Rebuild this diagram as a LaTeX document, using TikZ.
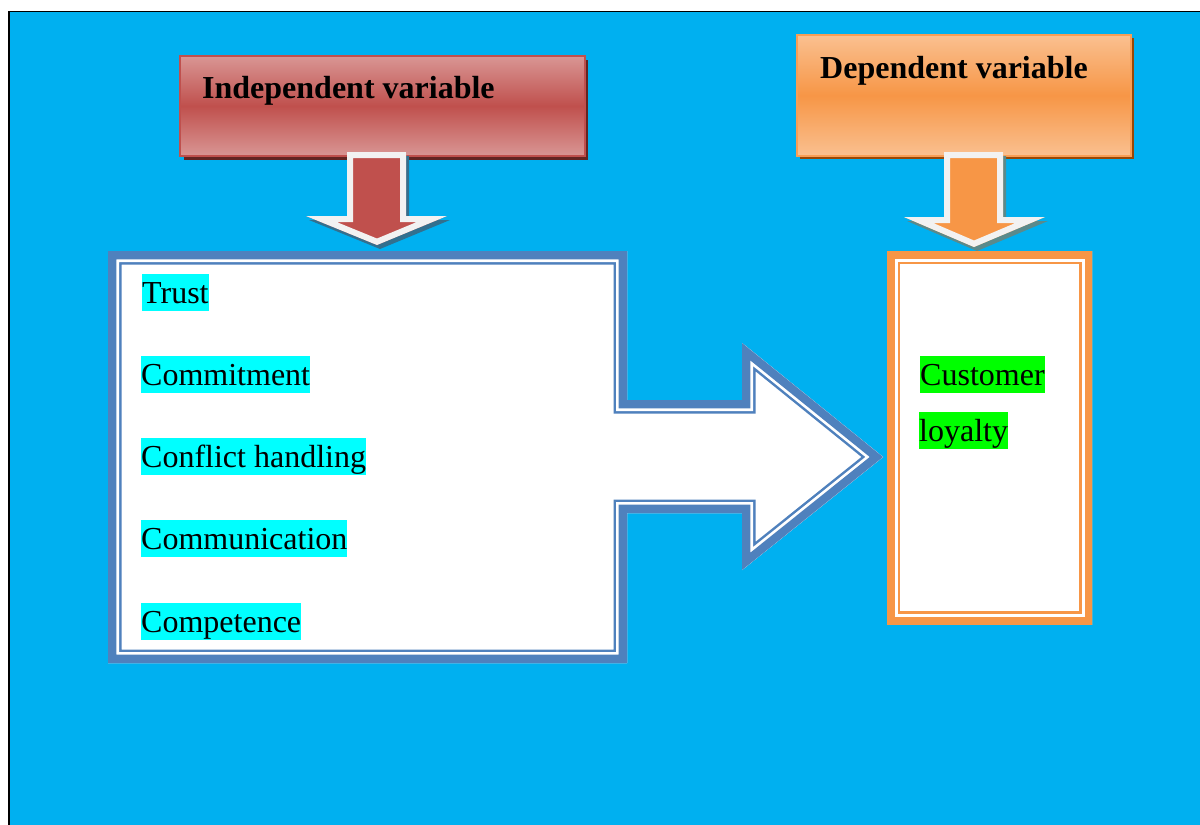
\documentclass[tikz,border=0pt]{standalone}
\usepackage{fontspec}
\setmainfont{Liberation Serif}
\definecolor{bgblue}{HTML}{00B0F0}
\definecolor{shblue}{HTML}{4F81BD}
\definecolor{org}{HTML}{F79646}
\definecolor{orgl}{HTML}{FAC090}
\definecolor{orgsh}{HTML}{984807}
\definecolor{redm}{HTML}{C0504D}
\definecolor{redl}{HTML}{D99694}
\definecolor{redsh}{HTML}{632523}
\definecolor{arrshA}{HTML}{32708F}
\definecolor{arrshB}{HTML}{5A8A8C}
\definecolor{arrw}{HTML}{F2F2F2}
\definecolor{hlcyan}{HTML}{00FFFF}
\definecolor{hlgreen}{HTML}{00FF00}
\begin{document}
\begin{tikzpicture}[x=1pt,y=-1pt,line join=miter,
  redarr/.style={insert path={(347,152) -- (406,152) -- (406,216) -- (447,216) -- (377,245) -- (306,216) -- (347,216) -- cycle}},
  orgarr/.style={insert path={(944,152) -- (1003,152) -- (1003,217) -- (1045,217) -- (974,247) -- (904,217) -- (944,217) -- cycle}},
  bigshp/.style={insert path={(108,251) -- (627,251) -- (627,400) -- (742,400) -- (742,343) -- (883,457) -- (742,570) -- (742,513) -- (627,513) -- (627,663) -- (108,663) -- cycle}},
  rbox/.style={insert path={(887,251) rectangle (1092,624)}},
  hdrtext/.style={anchor=base west,inner sep=0pt,font=\fontsize{32}{38}\selectfont\bfseries},
  hltext/.style={anchor=base west,inner sep=0pt,text height=29pt,text depth=8pt,font=\fontsize{32}{38}\selectfont}]
\useasboundingbox (0,0) rectangle (1200,825);
\fill[white] (0,0) rectangle (1200,825);
\fill[bgblue] (9,11.5) rectangle (1200,825);
\draw[line width=1.4pt] (8,11.5) -- (1200,11.5);
\draw[line width=2pt] (9,11) -- (9,825);

% independent variable header
\fill[redsh] (184,60) rectangle (588,160);
\draw[top color=redl,bottom color=redl,middle color=redm,draw=redm,line width=1.5pt] (180,56) rectangle (585,156);
\node[hdrtext] (indtxt) at (202,98) {Independent variable};

% dependent variable header
\fill[orgsh] (800,38) rectangle (1134,159);
\draw[top color=orgl,bottom color=orgl,middle color=org,draw=org!80!orgl,line width=1.5pt] (797,35) rectangle (1131,156);
\node[hdrtext] (deptxt) at (820,78) {Dependent variable};

% down arrows
\fill[arrshA,shift={(3,4)},redarr];
\fill[redm,redarr];
\begin{scope}
\clip[redarr];
\draw[arrw,line width=12pt,redarr];
\end{scope}
\fill[arrshB,shift={(3,4)},orgarr];
\fill[org,orgarr];
\begin{scope}
\clip[orgarr];
\draw[arrw,line width=12pt,orgarr];
\end{scope}

% big arrow-box
\fill[white,bigshp];
\begin{scope}
\clip[bigshp];
\draw[shblue,line width=27pt,bigshp];
\draw[white,line width=22pt,bigshp];
\draw[shblue,line width=16.6pt,bigshp];
\end{scope}

% right box
\fill[white,rbox];
\begin{scope}
\clip[rbox];
\draw[org,line width=26pt,rbox];
\draw[white,line width=21pt,rbox];
\draw[org,line width=15pt,rbox];
\end{scope}

% texts
\node[hltext,fill=hlcyan] (trust) at (142,303) {Trust};
\node[hltext,fill=hlcyan] (commit) at (141,385) {Commitment};
\node[hltext,fill=hlcyan] (conflict) at (141,467) {Conflict handling};
\node[hltext,fill=hlcyan] (communic) at (141,549) {Communication};
\node[hltext,fill=hlcyan] (compet) at (141,632) {Competence};
\node[hltext,fill=hlgreen] (cust) at (920,385) {Customer};
\node[hltext,fill=hlgreen] (loyal) at (919,441) {loyalty};
\end{tikzpicture}
\end{document}
